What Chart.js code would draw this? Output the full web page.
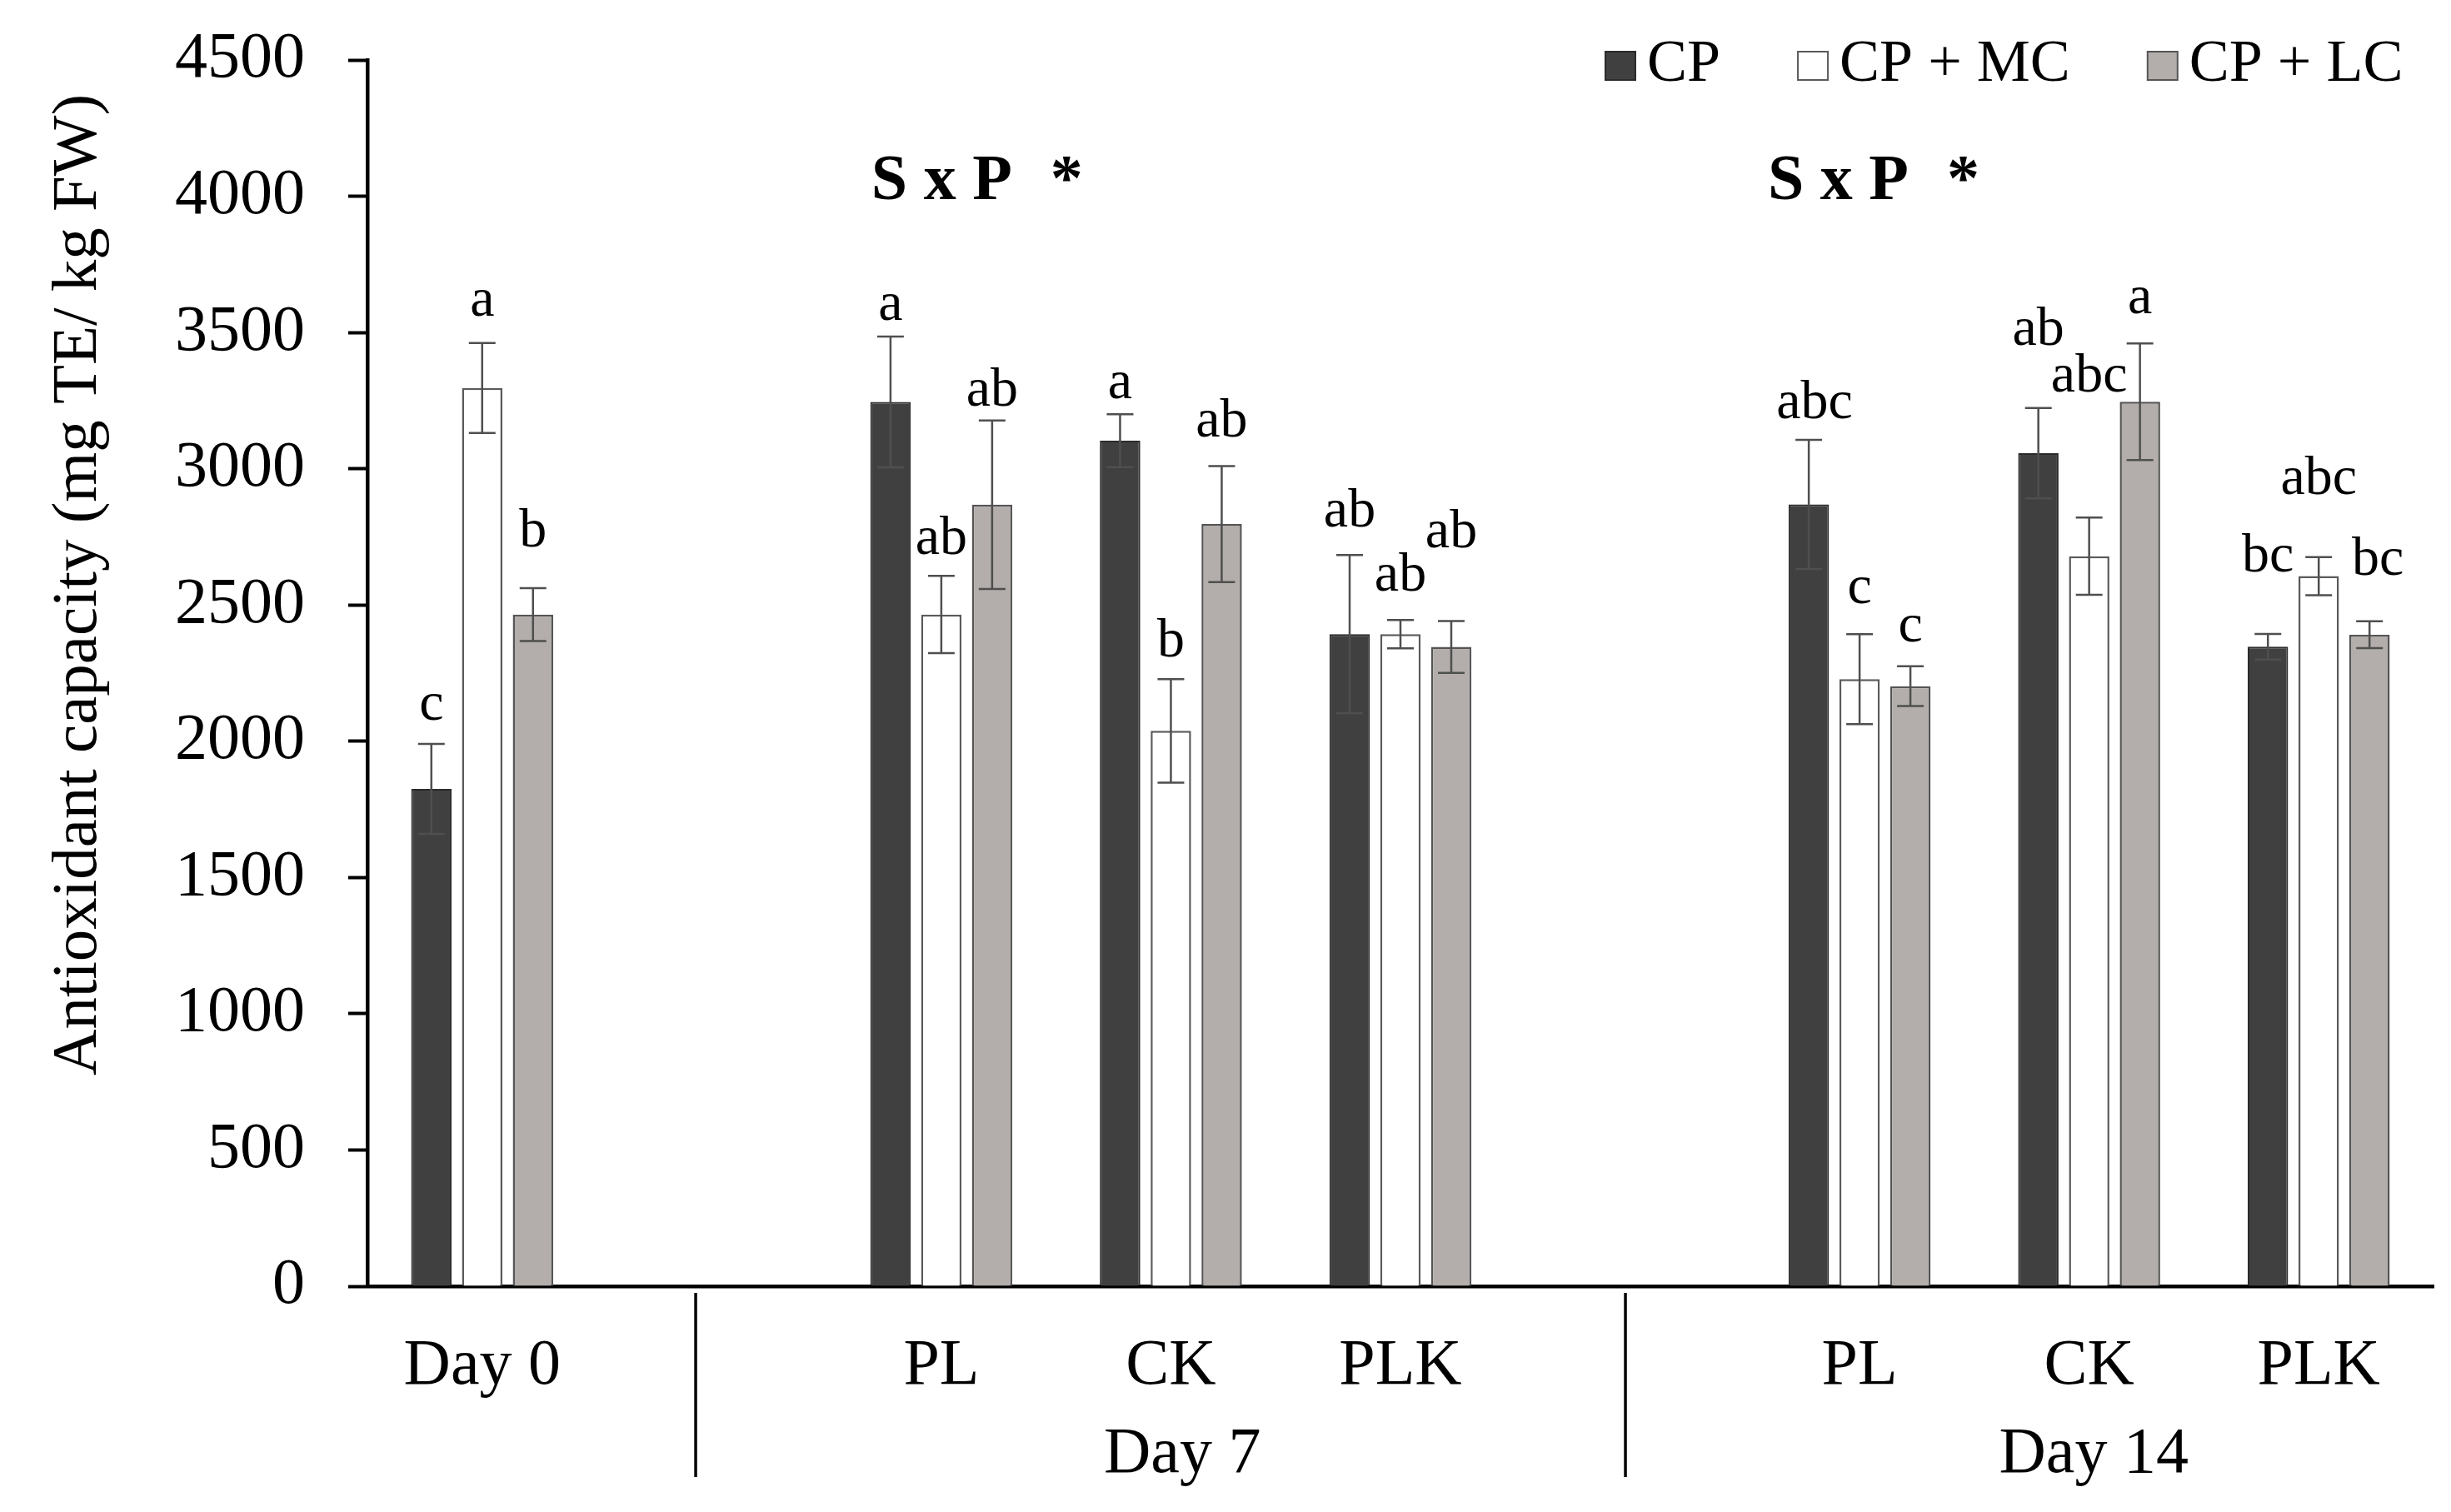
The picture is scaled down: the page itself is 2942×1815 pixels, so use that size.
<!DOCTYPE html>
<html>
<head>
<meta charset="utf-8">
<script src="https://cdn.jsdelivr.net/npm/chart.js@4.4.1/dist/chart.umd.min.js"></script>
<style>
  html, body { margin: 0; padding: 0; background: #fff; }
  #wrap { width: 2942px; height: 1815px; }
</style>
</head>
<body>
<div id="wrap"><canvas id="myChart"></canvas></div>
<script>
// Datos
const categories = ['Day 0', '', 'PL', 'CK', 'PLK', '', 'PL', 'CK', 'PLK'];
const seriesNames = ['CP', 'CP + MC', 'CP + LC'];
const cpValues = [1825, null, 3245, 3103, 2393, null, 2869, 3057, 2347];
const mcValues = [3296, null, 2465, 2038, 2393, null, 2228, 2679, 2606];
const lcValues = [2465, null, 2868, 2797, 2346, null, 2202, 3246, 2391];
const cpErrors = [165, null, 240, 97, 290, null, 237, 166, 47];
const mcErrors = [165, null, 142, 190, 52, null, 165, 142, 70];
const lcErrors = [97, null, 309, 213, 95, null, 73, 214, 49];
const cpLetters = ['c', '', 'a', 'a', 'ab', '', 'abc', 'ab', 'bc'];
const mcLetters = ['a', '', 'ab', 'b', 'ab', '', 'c', 'abc', 'abc'];
const lcLetters = ['b', '', 'ab', 'ab', 'ab', '', 'c', 'a', 'bc'];
const yTicks = [0, 500, 1000, 1500, 2000, 2500, 3000, 3500, 4000, 4500];
const groupLabels = ['Day 7', 'Day 14'];
const interactionLabel = 'S x P';
const yTitle = 'Antioxidant capacity (mg TE/ kg FW)';

const errors = [cpErrors, mcErrors, lcErrors];
const letters = [cpLetters, mcLetters, lcLetters];

// Layout (pixels / category positions)
const letterGap = [
  [29, 0, 20, 19, 34, 0, 26, 76, 75],
  [33, 0, 26, 27, 35, 0, 37, 151, 76],
  [50, 0, 18, 35, 89, 0, 30, 36, 56]
];
const letterShift = { '0,6': 7, '2,8': 10 };
const dividerAt = [0.93, 4.98];
const groupAt = [3.05, 7.02];
const sxpAt = [1.695, 5.6];

const serif = '"Liberation Serif", "Times New Roman", serif';
const fills = ['#404040', '#ffffff', '#b3aeab'];
const borders = ['#2b2b2b', '#5a5a5a', '#555555'];

const overlay = {
  id: 'overlay',
  afterDatasetsDraw(chart) {
    const { ctx } = chart;
    const y = chart.scales.y;
    ctx.save();
    chart.data.datasets.forEach((ds, i) => {
      chart.getDatasetMeta(i).data.forEach((bar, j) => {
        const v = ds.data[j];
        if (v == null) return;
        const sd = errors[i][j];
        const top = y.getPixelForValue(v + sd);
        const bot = y.getPixelForValue(v - sd);
        ctx.strokeStyle = '#4f4f4f';
        ctx.lineWidth = 2.5;
        ctx.beginPath();
        ctx.moveTo(bar.x, top); ctx.lineTo(bar.x, bot);
        ctx.moveTo(bar.x - 16, top); ctx.lineTo(bar.x + 16, top);
        ctx.moveTo(bar.x - 16, bot); ctx.lineTo(bar.x + 16, bot);
        ctx.stroke();

        ctx.fillStyle = '#000';
        ctx.font = '66px ' + serif;
        ctx.textAlign = 'center';
        ctx.textBaseline = 'alphabetic';
        const dx = letterShift[i + ',' + j] || 0;
        ctx.fillText(letters[i][j], bar.x + dx, top - letterGap[i][j]);
      });
    });
    ctx.restore();
  },
  afterDraw(chart) {
    const { ctx } = chart;
    const x = chart.scales.x;
    ctx.save();
    ctx.fillStyle = '#000';

    // y title
    ctx.save();
    ctx.translate(95, 702);
    ctx.rotate(-Math.PI / 2);
    ctx.font = '77px ' + serif;
    ctx.textAlign = 'center';
    ctx.textBaseline = 'middle';
    ctx.fillText(yTitle, 0, 0);
    ctx.restore();

    // dividers
    ctx.strokeStyle = '#000';
    ctx.lineWidth = 3.5;
    dividerAt.forEach(v => {
      const px = x.getPixelForValue(v);
      ctx.beginPath();
      ctx.moveTo(px, 1552);
      ctx.lineTo(px, 1773);
      ctx.stroke();
    });

    // second level labels
    ctx.font = '78px ' + serif;
    ctx.textAlign = 'center';
    ctx.textBaseline = 'alphabetic';
    groupLabels.forEach((t, k) => ctx.fillText(t, x.getPixelForValue(groupAt[k]), 1767));

    // S x P *
    ctx.font = 'bold 78px ' + serif;
    ctx.textAlign = 'left';
    sxpAt.forEach(v => {
      const px = x.getPixelForValue(v);
      ctx.fillText(interactionLabel, px, 239);
      const w = ctx.measureText(interactionLabel).width;
      ctx.fillText('*', px + w + 46, 239);
    });

    // legend
    ctx.font = '72px ' + serif;
    ctx.textBaseline = 'alphabetic';
    let lx = 1927;
    seriesNames.forEach((name, i) => {
      ctx.fillStyle = fills[i];
      ctx.fillRect(lx, 62, 36, 34);
      ctx.strokeStyle = borders[i];
      ctx.lineWidth = 2;
      ctx.strokeRect(lx, 62, 36, 34);
      ctx.fillStyle = '#000';
      ctx.fillText(name, lx + 50, 97);
      lx += 50 + ctx.measureText(name).width + 93;
    });
    ctx.restore();
  }
};

new Chart(document.getElementById('myChart'), {
  type: 'bar',
  data: {
    labels: categories,
    datasets: [
      { label: seriesNames[0], data: cpValues, backgroundColor: fills[0], borderColor: borders[0], borderWidth: 2 },
      { label: seriesNames[1], data: mcValues, backgroundColor: fills[1], borderColor: borders[1], borderWidth: 2.5 },
      { label: seriesNames[2], data: lcValues, backgroundColor: fills[2], borderColor: borders[2], borderWidth: 2.5 }
    ]
  },
  options: {
    responsive: true,
    maintainAspectRatio: false,
    devicePixelRatio: 1,
    animation: false,
    categoryPercentage: 0.664,
    barPercentage: 0.795,
    layout: { padding: { top: 72, right: 21, left: 0, bottom: 0 } },
    plugins: {
      legend: { display: false },
      tooltip: { enabled: false }
    },
    scales: {
      x: {
        grid: { display: false, drawTicks: false },
        border: { display: true, color: '#000', width: 4.5 },
        ticks: {
          color: '#000',
          padding: 50,
          maxRotation: 0,
          autoSkip: false,
          font: { size: 78, family: serif }
        },
        afterFit: s => { s.height = 271; }
      },
      y: {
        min: 0,
        max: 4500,
        afterBuildTicks: s => { s.ticks = yTicks.map(v => ({ value: v })); },
        grid: {
          display: true,
          drawOnChartArea: false,
          drawTicks: true,
          tickLength: 23,
          tickColor: '#000',
          tickWidth: 4
        },
        border: { display: true, color: '#000', width: 4.5 },
        ticks: {
          color: '#000',
          padding: 52,
          font: { size: 78, family: serif },
          callback: v => String(v)
        },
        afterFit: s => { s.width = 441; s.paddingTop = 0; s.paddingBottom = 0; }
      }
    }
  },
  plugins: [overlay]
});
</script>
</body>
</html>
